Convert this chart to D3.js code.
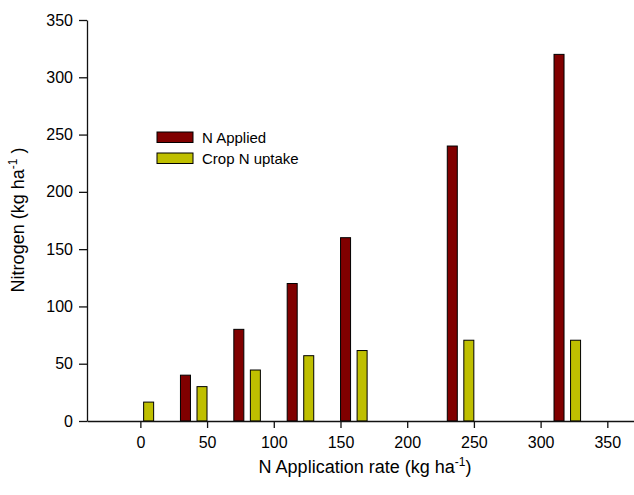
<!DOCTYPE html>
<html>
<head>
<meta charset="utf-8">
<script src="https://cdn.jsdelivr.net/npm/d3@7"></script>
<style>
  html, body { margin: 0; padding: 0; background: #fff; }
  svg { display: block; font-family: "Liberation Sans", Arial, sans-serif; }
</style>
</head>
<body>
<svg id="chart" width="634" height="495"></svg>
<script>
// N application rates (kg ha-1) and the two measured series
const rates = [0, 40, 80, 120, 160, 240, 320];
const nApplied = [0, 40, 80, 120, 160, 240, 320];
const cropUptake = [16.5, 30, 44.5, 57, 61.5, 70.5, 70.5];
const xTicks = [0, 50, 100, 150, 200, 250, 300, 350];
const yTicks = [0, 50, 100, 150, 200, 250, 300, 350];
const seriesNames = ["N Applied", "Crop N uptake"];
const seriesColors = ["#800000", "#bfbf00"];

const svg = d3.select("#chart");
const margin = { left: 87, right: 0, top: 20, bottom: 74 };
const W = 634, H = 495;

const x = d3.scaleLinear().domain([-40, 370]).range([margin.left, W - margin.right]);
const y = d3.scaleLinear().domain([0, 350]).range([H - margin.bottom, margin.top]);

const offset = 6.2;  // bar centre shift from the rate, in rate units
const barW = 7.5;    // bar width, in rate units

const series = [nApplied, cropUptake];
series.forEach((vals, si) => {
  const shift = si === 0 ? -offset : offset;
  svg.append("g")
    .selectAll("rect")
    .data(rates.map((r, i) => ({ r, v: vals[i] })).filter(d => d.v > 0))
    .join("rect")
    .attr("x", d => x(d.r + shift - barW / 2))
    .attr("width", d => x(d.r + shift + barW / 2) - x(d.r + shift - barW / 2))
    .attr("y", d => y(d.v))
    .attr("height", d => y(0) - y(d.v))
    .attr("fill", seriesColors[si])
    .attr("stroke", "#000")
    .attr("stroke-width", 1);
});

// axes
const xAxis = svg.append("g")
  .attr("transform", `translate(0,${y(0)})`)
  .call(d3.axisBottom(x).tickValues(xTicks).tickSize(7).tickPadding(9).tickSizeOuter(0));
const yAxis = svg.append("g")
  .attr("transform", `translate(${x(-40)},0)`)
  .call(d3.axisLeft(y).tickValues(yTicks).tickSize(8).tickPadding(6).tickSizeOuter(0));

[xAxis, yAxis].forEach(g => {
  g.select(".domain").attr("stroke", "#111").attr("stroke-width", 1.3);
  g.selectAll(".tick line").attr("stroke", "#111").attr("stroke-width", 1.3);
  g.selectAll(".tick text")
    .attr("fill", "#000")
    .style("font-size", "16px")
    .style("font-family", "'Liberation Sans', Arial, sans-serif");
});

// axis titles
const xTitle = svg.append("text")
  .attr("x", 365).attr("y", 473)
  .attr("text-anchor", "middle")
  .style("font-size", "18px").attr("fill", "#000");
xTitle.append("tspan").text("N Application rate (kg ha");
xTitle.append("tspan").attr("dy", -7).style("font-size", "12px").text("-1");
xTitle.append("tspan").attr("dy", 7).text(")");

const yTitle = svg.append("text")
  .attr("transform", "translate(24,220) rotate(-90)")
  .attr("text-anchor", "middle")
  .style("font-size", "18px").attr("fill", "#000");
yTitle.append("tspan").text("Nitrogen (kg ha");
yTitle.append("tspan").attr("dy", -7).style("font-size", "12px").text("-1");
yTitle.append("tspan").attr("dy", 7).text(" )");

// legend
const legend = svg.append("g").attr("transform", "translate(157,132)");
seriesNames.forEach((name, i) => {
  const row = legend.append("g").attr("transform", `translate(0,${i * 21})`);
  row.append("rect")
    .attr("width", 36).attr("height", 10.5)
    .attr("fill", seriesColors[i]).attr("stroke", "#000").attr("stroke-width", 1);
  row.append("text")
    .attr("x", 45).attr("y", 11.3)
    .style("font-size", "15px").attr("fill", "#000")
    .text(name);
});
</script>
</body>
</html>
